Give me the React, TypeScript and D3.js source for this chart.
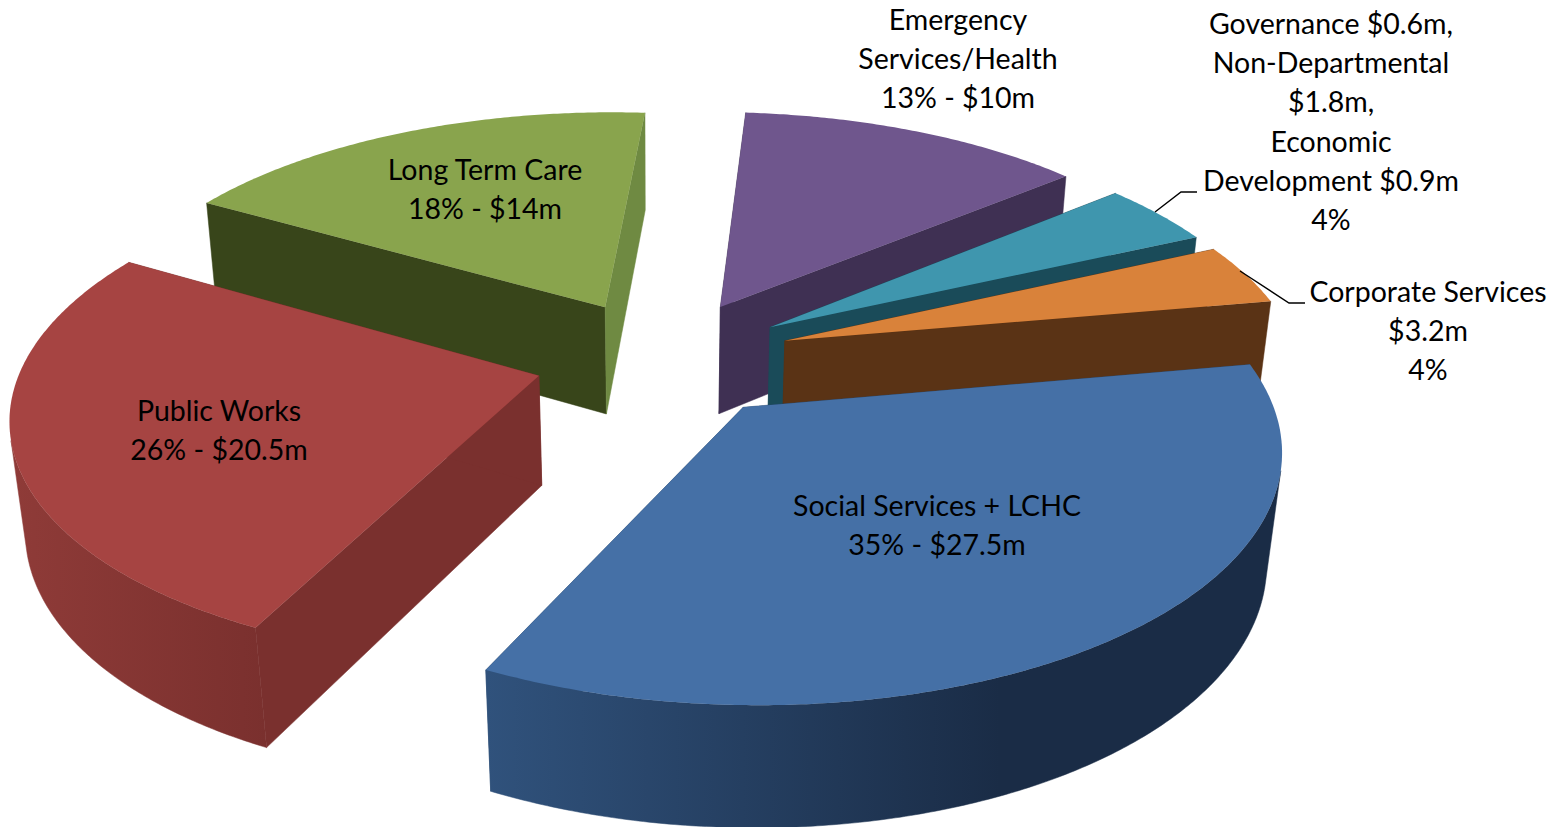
import React from "react";
import * as d3 from "d3";

// ---- data ----
const categories = ["Social Services + LCHC", "Public Works", "Long Term Care", "Emergency Services/Health", "Governance/Non-Departmental/Economic Development", "Corporate Services"];
const amounts = [27.5, 20.5, 14, 10, 3.3, 3.2];
const topColors = ["#4570a6", "#a64442", "#89a44d", "#6f568d", "#3f96ae", "#d9823a"];
const startWallColors = ["#2a4a70", "#7a302e", "#38451a", "#3f3053", "#1a4b59", "#5a3315"];
const endWallColors = ["#2a4a70", "#7a302e", "#6f8a42", "#3f3053", "#1a4b59", "#5a3315"];
const rimStops: [string, string][] = [
  ["#30527c", "#1a2c46"],
  ["#8f3b38", "#7a302e"],
  ["#4a5c22", "#38451a"],
  ["#3f3053", "#3f3053"],
  ["#1a4b59", "#1a4b59"],
  ["#5a3315", "#5a3315"],
];
const labelBlocks = [
  { x: 937, y: 516, lines: ["Social Services + LCHC", "35% - $27.5m"] },
  { x: 219, y: 421, lines: ["Public Works", "26% - $20.5m"] },
  { x: 485, y: 180, lines: ["Long Term Care", "18% - $14m"] },
  { x: 958, y: 30, lines: ["Emergency", "Services/Health", "13% - $10m"] },
  { x: 1331, y: 34, lines: ["Governance $0.6m,", "Non-Departmental", "$1.8m,", "Economic", "Development $0.9m", "4%"] },
  { x: 1428, y: 302, lines: ["Corporate Services", "$3.2m", "4%"] },
];
const leaders: [number, number][][] = [
  [[1155, 212], [1181, 192], [1197, 192]],
  [[1240, 271], [1289, 303], [1305, 303]],
];

// ---- camera model ----
const CX = 660, CY = 380.7, F = 522, G = 244.5, K = 0.15;
const VP: [number, number] = [660, 5000];
const DEPTH = 0.0238;
const EXPLODE = 0.25;
const CENTER: [number, number] = [0.0065, -0.093];
const START = (80 * Math.PI) / 180;
const DRAW_ORDER = [2, 3, 4, 5, 1, 0];

type Pt = [number, number];
const project = (X: number, Y: number): Pt => {
  const w = 1 / (1 - K * Y);
  return [CX + F * X * w, CY + G * Y * w];
};
const extrude = (X: number, Y: number): Pt => {
  const [sx, sy] = project(X, Y);
  const w = 1 / (1 - K * Y);
  const d = DEPTH * w;
  return [sx + (VP[0] - sx) * d, sy + (VP[1] - sy) * d];
};

const pie = d3.pie<number>().sort(null).startAngle(START).endAngle(START + 2 * Math.PI);
const arcs = pie(amounts);
const line = d3.line<Pt>().x((d) => d[0]).y((d) => d[1]);

function buildSlice(i: number) {
  const a = arcs[i];
  const toTheta = (t: number) => t - Math.PI / 2;
  const mid = toTheta((a.startAngle + a.endAngle) / 2);
  const ax = CENTER[0] + EXPLODE * Math.cos(mid);
  const ay = CENTER[1] + EXPLODE * Math.sin(mid);
  const n = 2 * Math.max(12, Math.round(((a.endAngle - a.startAngle) * 180) / Math.PI));
  const thetas = d3.range(n + 1).map((k) => toTheta(a.startAngle + ((a.endAngle - a.startAngle) * k) / n));
  const ground: Pt[] = thetas.map((th) => [ax + Math.cos(th), ay + Math.sin(th)]);
  const top = ground.map((g) => project(g[0], g[1]));
  const bottom = ground.map((g) => extrude(g[0], g[1]));
  const apexTop = project(ax, ay);
  const apexBot = extrude(ax, ay);
  // keep only the rim points whose outer wall faces the viewer
  const vis = d3.range(n + 1).filter((k) => {
    const p = top[Math.min(k, n - 1)];
    const q = top[Math.min(k, n - 1) + 1];
    const e = bottom[Math.min(k, n - 1)];
    return (q[0] - p[0]) * (e[1] - p[1]) - (q[1] - p[1]) * (e[0] - p[0]) < 0;
  });
  const visTop = vis.map((k) => top[k]);
  const visBot = vis.map((k) => bottom[k]);
  const xs = top.concat(bottom).map((p) => p[0]);
  return {
    i,
    topPath: line([apexTop, ...top])! + "Z",
    rimPath: vis.length > 1 ? line([...visTop, ...visBot.reverse()])! + "Z" : "",
    startWall: line([apexTop, top[0], bottom[0], apexBot])! + "Z",
    endWall: line([apexTop, top[n], bottom[n], apexBot])! + "Z",
    x0: d3.min(xs)!,
    x1: d3.max(xs)!,
  };
}

export default function App() {
  const slices = DRAW_ORDER.map(buildSlice);
  return (
    <svg
      width={1564}
      height={827}
      viewBox="0 0 1564 827"
      style={{ position: "absolute", left: 0, top: 0, display: "block", background: "#fff" }}
    >
      <defs>
        {slices.map((s) => (
          <linearGradient key={s.i} id={`rim${s.i}`} gradientUnits="userSpaceOnUse" x1={s.x0} x2={s.i === 0 ? 1000 : s.x1} y1={0} y2={0}>
            <stop offset="0" stopColor={rimStops[s.i][0]} />
            <stop offset="1" stopColor={rimStops[s.i][1]} />
          </linearGradient>
        ))}
      </defs>
      {slices.map((s) => (
        <g key={s.i}>
          <path d={s.startWall} fill={startWallColors[s.i]} stroke={startWallColors[s.i]} strokeWidth={0.5} />
          <path d={s.endWall} fill={endWallColors[s.i]} stroke={endWallColors[s.i]} strokeWidth={0.5} />
          {s.rimPath && <path d={s.rimPath} fill={`url(#rim${s.i})`} stroke={`url(#rim${s.i})`} strokeWidth={0.5} />}
          <path d={s.topPath} fill={topColors[s.i]} />
        </g>
      ))}
      {leaders.map((l, i) => (
        <path key={i} d={line(l)!} fill="none" stroke="#000" strokeWidth={1.4} />
      ))}
      <g fontFamily="Lato, 'Open Sans', sans-serif" fontSize={28.5} fill="#000" textAnchor="middle">
        {labelBlocks.map((b, i) => (
          <text key={i} data-category={categories[i]}>
            {b.lines.map((t, j) => (
              <tspan key={j} x={b.x} y={b.y + j * 39.2}>{t}</tspan>
            ))}
          </text>
        ))}
      </g>
    </svg>
  );
}
